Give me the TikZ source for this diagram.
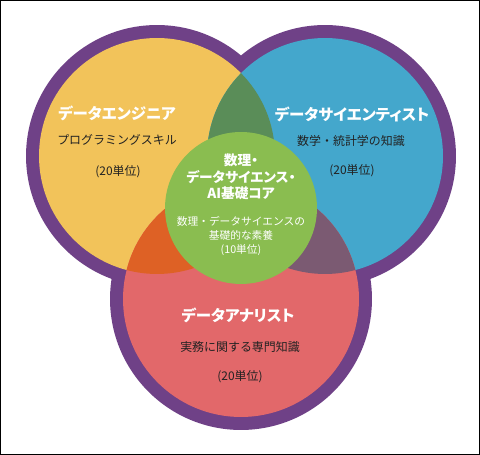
\documentclass[tikz,border=0pt]{standalone}
\usepackage{fontspec}
\usepackage{xcolor}
\usepackage{tikz}
\setmainfont{Noto Sans CJK JP}[BoldFont={Noto Sans CJK JP Bold}]
\newfontfamily\heavyjp{Noto Sans CJK JP Black}[RawFeature=+palt]

\definecolor{ringpurple}{HTML}{6F4187}
\definecolor{engyellow}{HTML}{F2C35A}
\definecolor{sciblue}{HTML}{44A7CC}
\definecolor{anared}{HTML}{E2686A}
\definecolor{coregreen}{HTML}{8ABD50}
\definecolor{lensgreen}{HTML}{5A8D58}
\definecolor{lensorange}{HTML}{DE6125}
\definecolor{lensmauve}{HTML}{7B5A72}
\definecolor{textdark}{HTML}{222222}

\begin{document}
\begin{tikzpicture}[x=0.02cm, y=-0.02cm,
    roletitle/.style={font=\heavyjp\fontsize{8.8}{11}\selectfont, text=white},
    roleskill/.style={font=\fontsize{6.8}{8}\selectfont, text=textdark},
    coretitle/.style={font=\heavyjp\fontsize{7.8}{9.4}\selectfont, text=white, align=center},
    coreskill/.style={font=\fontsize{6.1}{8.2}\selectfont, text=white, align=center}]
  \useasboundingbox (0,0) rectangle (480,455);

  % Frame
  \draw[black, line width=0.5pt] (0.5,0.5) rectangle (479.5,454.5);

  % Circle centres
  \coordinate (eng) at (157,156);
  \coordinate (sci) at (325,156);
  \coordinate (ana) at (241,299);
  \coordinate (core) at (241,208);

  % Purple outline round the three circles
  \foreach \c in {eng, sci, ana}
    \fill[ringpurple] (\c) circle (2.62cm);

  % Circles
  \fill[engyellow] (eng) circle (2.36cm);
  \fill[sciblue] (sci) circle (2.36cm);
  \fill[anared] (ana) circle (2.36cm);

  % Overlaps
  \begin{scope}
    \clip (eng) circle (2.36cm);
    \fill[lensgreen] (sci) circle (2.36cm);
    \fill[lensorange] (ana) circle (2.36cm);
  \end{scope}
  \begin{scope}
    \clip (sci) circle (2.36cm);
    \fill[lensmauve] (ana) circle (2.36cm);
  \end{scope}

  % Core circle
  \fill[coregreen] (core) circle (1.52cm);

  % 1. Data engineer
  \node[roletitle] (engname) at (117,113) {データエンジニア};
  \node[roleskill] (engskill) at (117,140) {プログラミングスキル};
  \node[roleskill] (engunits) at (118,172) {(20単位)};

  % 2. Data scientist
  \node[roletitle] (sciname) at (352,114) {データサイエンティスト};
  \node[roleskill] (sciskill) at (351,141) {数学・統計学の知識};
  \node[roleskill] (sciunits) at (352,171) {(20単位)};

  % 3. Data analyst
  \node[roletitle] (ananame) at (238,315) {データアナリスト};
  \node[roleskill] (anaskill) at (240,347) {実務に関する専門知識};
  \node[roleskill] (anaunits) at (240,377) {(20単位)};

  % 4. Core
  \node[coretitle] (corename) at (241,177) {数理・\\データサイエンス・\\AI基礎コア};
  \node[coreskill] (coreskill) at (241,236) {数理・データサイエンスの\\基礎的な素養\\(10単位)};

\end{tikzpicture}
\end{document}
